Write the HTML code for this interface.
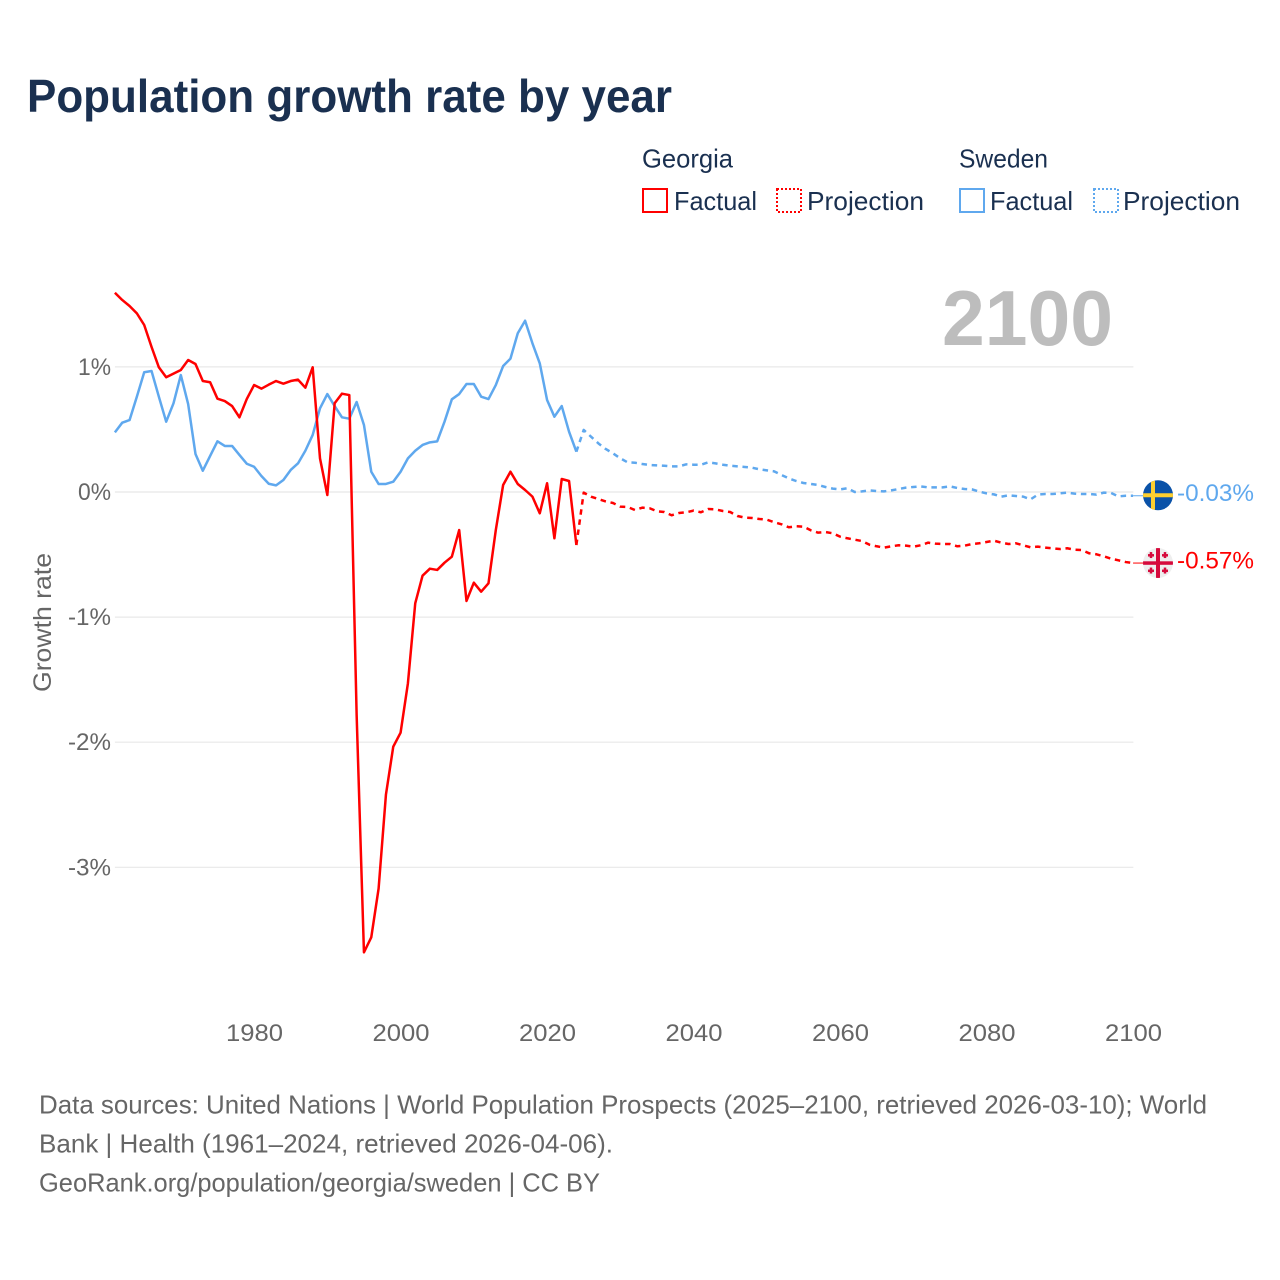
<!DOCTYPE html>
<html lang="en">
<head>
<meta charset="utf-8">
<title>Population growth rate by year</title>
<style>
html,body{margin:0;padding:0;background:#fff;}
svg{display:block;font-family:"Liberation Sans",sans-serif;}
</style>
</head>
<body>
<svg id="chart" width="1280" height="1280" viewBox="0 0 1280 1280" xmlns="http://www.w3.org/2000/svg">
  <rect x="0" y="0" width="1280" height="1280" fill="#ffffff"/>
  <text x="27" y="112" font-size="46" font-weight="700" fill="#1a3050" textLength="645" lengthAdjust="spacingAndGlyphs">Population growth rate by year</text>

  <g font-size="26" fill="#1a3050">
    <text x="642" y="167.500" textLength="91" lengthAdjust="spacingAndGlyphs">Georgia</text>
    <rect x="643" y="189" width="24" height="23" fill="none" stroke="#ff0000" stroke-width="2"/>
    <text x="674" y="210" textLength="83" lengthAdjust="spacingAndGlyphs">Factual</text>
    <rect x="777" y="189" width="24" height="23" fill="none" stroke="#ff0000" stroke-width="2" stroke-dasharray="2 2"/>
    <text x="807" y="210" textLength="117" lengthAdjust="spacingAndGlyphs">Projection</text>
    <text x="959" y="167.500" textLength="89" lengthAdjust="spacingAndGlyphs">Sweden</text>
    <rect x="960" y="189" width="24" height="23" fill="none" stroke="#5fa8ee" stroke-width="2"/>
    <text x="990" y="210" textLength="83" lengthAdjust="spacingAndGlyphs">Factual</text>
    <rect x="1094" y="189" width="24" height="23" fill="none" stroke="#5fa8ee" stroke-width="2" stroke-dasharray="2 2"/>
    <text x="1123" y="210" textLength="117" lengthAdjust="spacingAndGlyphs">Projection</text>
  </g>

  <text x="1113" y="345" font-size="78" font-weight="700" fill="#bdbdbd" text-anchor="end" textLength="171" lengthAdjust="spacingAndGlyphs">2100</text>
  <text transform="translate(51,692) rotate(-90)" font-size="25" fill="#666666" textLength="139" lengthAdjust="spacingAndGlyphs">Growth rate</text>

  <g id="grid"></g>
  <g id="yticks" font-size="24" fill="#666666" text-anchor="end"></g>
  <g id="xticks" font-size="24" fill="#666666" text-anchor="middle"></g>
  <g id="series" fill="none" stroke-width="2.500" stroke-linejoin="round"></g>

  <g id="flag-sweden">
    <circle cx="0" cy="0" r="15" fill="#0a52a8"/>
    <clipPath id="clip-se"><circle cx="0" cy="0" r="15"/></clipPath>
    <g clip-path="url(#clip-se)" fill="#fdcf2f">
      <rect x="-7" y="-15" width="4" height="30"/>
      <rect x="-15" y="-2" width="30" height="4"/>
    </g>
  </g>
  <g id="flag-georgia">
    <circle cx="0" cy="0" r="15" fill="#eeeeee"/>
    <clipPath id="clip-ge"><circle cx="0" cy="0" r="15"/></clipPath>
    <g clip-path="url(#clip-ge)" fill="#d60a3c">
      <rect x="-2" y="-15" width="4" height="30"/>
      <rect x="-15" y="-1.750" width="30" height="3.500"/>
      <rect x="-10" y="-9" width="6" height="2.500"/><rect x="-8.250" y="-11" width="2.500" height="6"/>
      <rect x="4" y="-9" width="6" height="2.500"/><rect x="5.750" y="-11" width="2.500" height="6"/>
      <rect x="-10" y="6.500" width="6" height="2.500"/><rect x="-8.250" y="4.500" width="2.500" height="6"/>
      <rect x="4" y="6.500" width="6" height="2.500"/><rect x="5.750" y="4.500" width="2.500" height="6"/>
    </g>
  </g>
  <text id="label-sweden" x="1177" font-size="24" fill="#5fa8ee" textLength="77" lengthAdjust="spacingAndGlyphs"></text>
  <text id="label-georgia" x="1177" font-size="24" fill="#ff0000" textLength="77" lengthAdjust="spacingAndGlyphs"></text>

  <g font-size="26" fill="#666666">
    <text x="39" y="1113.500" textLength="1168" lengthAdjust="spacingAndGlyphs">Data sources: United Nations | World Population Prospects (2025–2100, retrieved 2026-03-10); World</text>
    <text x="39" y="1152.500" textLength="574" lengthAdjust="spacingAndGlyphs">Bank | Health (1961–2024, retrieved 2026-04-06).</text>
    <text x="39" y="1191.500" textLength="561" lengthAdjust="spacingAndGlyphs">GeoRank.org/population/georgia/sweden | CC BY</text>
  </g>
</svg>

<script>
const factualStartYear = 1961;
const projectionStartYear = 2025;

const xTickYears = [1980, 2000, 2020, 2040, 2060, 2080, 2100];
const yTickValues = [1, 0, -1, -2, -3];

// Georgia factual, 1961–2024
const georgiaFactual = [
  1.593, 1.535, 1.487, 1.428, 1.335, 1.16, 0.997, 0.917, 0.946, 0.975,
  1.055, 1.023, 0.887, 0.877, 0.746, 0.727, 0.687, 0.597, 0.743, 0.855,
  0.826, 0.858, 0.887, 0.866, 0.887, 0.898, 0.834, 0.997, 0.269, -0.024,
  0.709, 0.786, 0.775, -1.78, -3.68, -3.56, -3.17, -2.42, -2.036, -1.924,
  -1.53, -0.89, -0.669, -0.613, -0.623, -0.565, -0.517, -0.304, -0.871, -0.725,
  -0.797, -0.73, -0.304, 0.056, 0.162, 0.064, 0.016, -0.037, -0.17, 0.07,
  -0.37, 0.104, 0.088, -0.424
];

// Sweden factual, 1961–2024
const swedenFactual = [
  0.477, 0.554, 0.575, 0.762, 0.957, 0.967, 0.762, 0.562, 0.709, 0.935,
  0.703, 0.304, 0.17, 0.288, 0.405, 0.368, 0.368, 0.296, 0.226, 0.202,
  0.128, 0.066, 0.053, 0.096, 0.176, 0.229, 0.33, 0.456, 0.669, 0.783,
  0.687, 0.597, 0.586, 0.719, 0.536, 0.162, 0.064, 0.064, 0.082, 0.162,
  0.269, 0.33, 0.376, 0.397, 0.405, 0.562, 0.741, 0.783, 0.863, 0.863,
  0.762, 0.743, 0.855, 1.007, 1.066, 1.269, 1.369, 1.189, 1.029, 0.735,
  0.602, 0.687, 0.482, 0.322
];

// Georgia projection, 2025–2100
const georgiaProjection = [
  -0.005, -0.037, -0.056, -0.075, -0.088, -0.117, -0.12, -0.144, -0.125, -0.13,
  -0.154, -0.16, -0.186, -0.168, -0.162, -0.149, -0.162, -0.136, -0.139, -0.152,
  -0.16, -0.192, -0.205, -0.208, -0.216, -0.221, -0.242, -0.258, -0.282, -0.274,
  -0.277, -0.306, -0.325, -0.32, -0.33, -0.357, -0.37, -0.381, -0.392, -0.421,
  -0.434, -0.445, -0.434, -0.426, -0.429, -0.437, -0.426, -0.405, -0.413, -0.416,
  -0.416, -0.434, -0.429, -0.416, -0.41, -0.4, -0.389, -0.405, -0.416, -0.41,
  -0.426, -0.442, -0.437, -0.445, -0.45, -0.456, -0.45, -0.461, -0.464, -0.49,
  -0.498, -0.514, -0.533, -0.546, -0.56, -0.568
];

// Sweden projection, 2025–2100
const swedenProjection = [
  0.496, 0.442, 0.389, 0.344, 0.309, 0.269, 0.237, 0.234, 0.224, 0.216,
  0.213, 0.21, 0.205, 0.205, 0.221, 0.218, 0.218, 0.237, 0.229, 0.218,
  0.21, 0.205, 0.2, 0.194, 0.181, 0.173, 0.165, 0.136, 0.109, 0.088,
  0.072, 0.064, 0.056, 0.04, 0.027, 0.021, 0.03, 0.0, 0.005, 0.013,
  0.008, 0.005, 0.013, 0.024, 0.035, 0.04, 0.045, 0.037, 0.037, 0.037,
  0.045, 0.032, 0.024, 0.021, 0.003, -0.011, -0.019, -0.037, -0.027, -0.032,
  -0.037, -0.059, -0.021, -0.016, -0.016, -0.011, -0.005, -0.013, -0.016, -0.016,
  -0.021, -0.005, -0.008, -0.035, -0.03, -0.03
];

const SVG_NS = 'http://www.w3.org/2000/svg';
const RED = '#ff0000';
const BLUE = '#5fa8ee';

function xScale(year) { return 114.9 + (year - 1961) * 7.325; }
function yScale(value) { return 492 - value * 125.1; }
function make(tag) { return document.createElementNS(SVG_NS, tag); }

function pointsFor(values, startYear) {
  return values.map(function (v, i) {
    return xScale(startYear + i).toFixed(2) + ',' + yScale(v).toFixed(2);
  }).join(' ');
}

const gridGroup = document.getElementById('grid');
const yTickGroup = document.getElementById('yticks');
yTickValues.forEach(function (v) {
  const line = make('line');
  
  
  line.setAttribute('x1', xScale(1961));
  line.setAttribute('x2', xScale(2100) + 0.3);
  line.setAttribute('y1', yScale(v));
  line.setAttribute('y2', yScale(v));
  line.setAttribute('stroke', '#e8e8e8');
  line.setAttribute('stroke-width', '1.2');
  gridGroup.appendChild(line);

  const label = make('text');
  
  
  label.setAttribute('x', 111);
  label.setAttribute('y', yScale(v) + 8);
  label.setAttribute('textLength', v < 0 ? 43 : 33);
  label.setAttribute('lengthAdjust', 'spacingAndGlyphs');
  label.textContent = v + '%';
  yTickGroup.appendChild(label);
});

const xTickGroup = document.getElementById('xticks');
xTickYears.forEach(function (yr) {
  const label = make('text');
  
  
  label.setAttribute('x', xScale(yr) + 0.4);
  label.setAttribute('y', 1041);
  label.setAttribute('textLength', 57);
  label.setAttribute('lengthAdjust', 'spacingAndGlyphs');
  label.textContent = String(yr);
  xTickGroup.appendChild(label);
});

const seriesGroup = document.getElementById('series');

const swedenFactualLine = make('polyline');


swedenFactualLine.setAttribute('points', pointsFor(swedenFactual, factualStartYear));
swedenFactualLine.setAttribute('stroke', BLUE);
seriesGroup.appendChild(swedenFactualLine);

const swedenProjectionLine = make('polyline');


swedenProjectionLine.setAttribute('points', pointsFor([swedenFactual[swedenFactual.length - 1]].concat(swedenProjection), projectionStartYear - 1));
swedenProjectionLine.setAttribute('stroke', BLUE);
swedenProjectionLine.setAttribute('stroke-dasharray', '5.500 4.700');
seriesGroup.appendChild(swedenProjectionLine);

const georgiaFactualLine = make('polyline');


georgiaFactualLine.setAttribute('points', pointsFor(georgiaFactual, factualStartYear));
georgiaFactualLine.setAttribute('stroke', RED);
seriesGroup.appendChild(georgiaFactualLine);

const georgiaProjectionLine = make('polyline');


georgiaProjectionLine.setAttribute('points', pointsFor([georgiaFactual[georgiaFactual.length - 1]].concat(georgiaProjection), projectionStartYear - 1));
georgiaProjectionLine.setAttribute('stroke', RED);
georgiaProjectionLine.setAttribute('stroke-dasharray', '5.500 4.700');
seriesGroup.appendChild(georgiaProjectionLine);

const swedenLast = swedenProjection[swedenProjection.length - 1];
const georgiaLast = georgiaProjection[georgiaProjection.length - 1];

const swedenConnector = make('line');


swedenConnector.setAttribute('x1', xScale(2100));
swedenConnector.setAttribute('x2', 1144);
swedenConnector.setAttribute('y1', yScale(swedenLast));
swedenConnector.setAttribute('y2', yScale(swedenLast));
swedenConnector.setAttribute('stroke', BLUE);
swedenConnector.setAttribute('stroke-width', '1');
seriesGroup.appendChild(swedenConnector);

const georgiaConnector = make('line');


georgiaConnector.setAttribute('x1', xScale(2100));
georgiaConnector.setAttribute('x2', 1144);
georgiaConnector.setAttribute('y1', yScale(georgiaLast));
georgiaConnector.setAttribute('y2', yScale(georgiaLast));
georgiaConnector.setAttribute('stroke', RED);
georgiaConnector.setAttribute('stroke-width', '1');
seriesGroup.appendChild(georgiaConnector);

document.getElementById('flag-sweden').setAttribute('transform', 'translate(1158,' + (yScale(swedenLast) - 0.5) + ')');
document.getElementById('flag-georgia').setAttribute('transform', 'translate(1158,' + yScale(georgiaLast) + ')');

const swedenLabel = document.getElementById('label-sweden');
swedenLabel.setAttribute('y', yScale(swedenLast) + 5);
swedenLabel.textContent = swedenLast.toFixed(2) + '%';

const georgiaLabel = document.getElementById('label-georgia');
georgiaLabel.setAttribute('y', yScale(georgiaLast) + 5.5);
georgiaLabel.textContent = georgiaLast.toFixed(2) + '%';
</script>
</body>
</html>
